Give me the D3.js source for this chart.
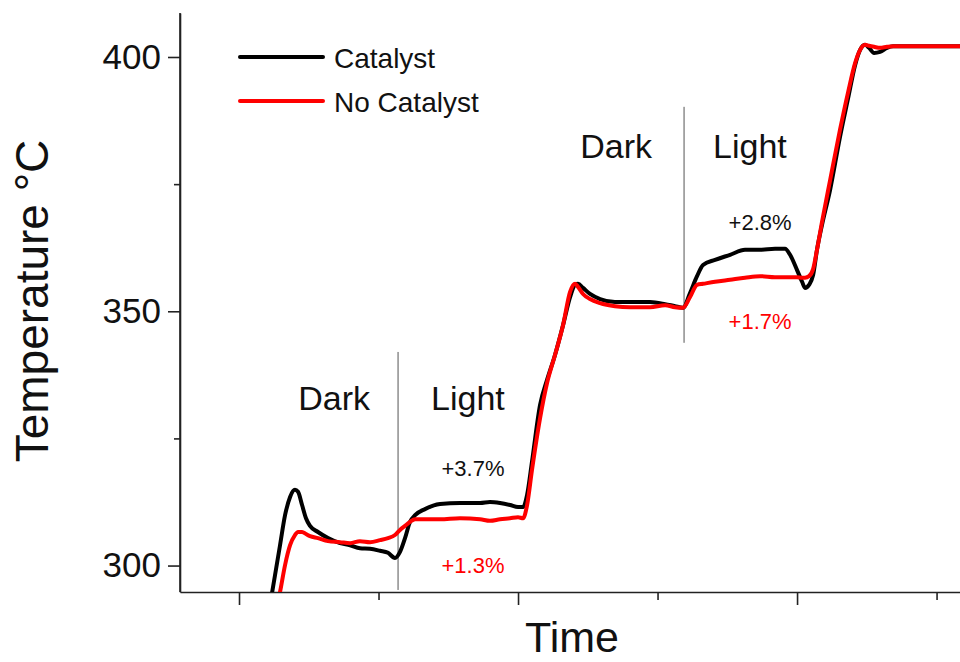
<!DOCTYPE html>
<html>
<head>
<meta charset="utf-8">
<script src="https://cdn.jsdelivr.net/npm/d3@7"></script>
<style>
  html, body { margin: 0; padding: 0; background: #fff; }
  svg { display: block; font-family: "Liberation Sans", Arial, Helvetica, sans-serif; }
</style>
</head>
<body>
<svg id="chart" width="960" height="662"></svg>
<script>
// Time (min) sampled along both runs
const time = [22.22, 22.58, 22.94, 23.30, 23.66, 24.01, 24.23, 24.52, 24.80, 25.09,
  25.66, 26.38, 27.24, 27.96, 28.67, 29.39, 30.11, 30.68, 31.18, 31.54,
  31.90, 32.26, 32.62, 33.33, 34.41, 35.84, 37.28, 37.99, 38.71, 39.43,
  40.00, 40.36, 40.65, 41.00, 41.58, 42.08, 42.65, 43.23, 43.73, 44.09,
  44.30, 44.66, 45.16, 45.88, 46.95, 48.03, 49.46, 50.54, 51.25, 51.83,
  52.33, 52.83, 53.26, 54.12, 55.20, 56.27, 57.35, 58.42, 59.14, 59.50,
  60.00, 60.36, 60.57, 60.86, 61.15, 61.43, 61.79, 62.37, 63.08, 63.66,
  64.16, 64.52, 64.87, 65.16, 65.52, 65.95, 66.45, 66.88, 71.68];

// Temperature (°C) with catalyst
const catalyst = [292.2, 298.1, 304.0, 309.9, 313.5, 314.9, 314.5, 311.9, 309.3, 307.8,
  306.6, 305.4, 304.4, 304.0, 303.4, 303.3, 302.9, 302.5, 301.5, 302.7,
  305.4, 308.6, 309.9, 311.1, 312.1, 312.3, 312.3, 312.5, 312.3, 311.9,
  311.5, 311.5, 313.9, 320.4, 331.6, 336.5, 341.4, 347.3, 352.8, 355.2,
  355.4, 354.6, 353.4, 352.4, 351.8, 351.8, 351.8, 351.4, 351.0, 350.7,
  353.6, 356.9, 359.1, 360.1, 361.1, 362.1, 362.1, 362.3, 362.3, 361.1,
  358.1, 355.8, 354.6, 355.2, 357.1, 362.1, 367.0, 373.9, 384.3, 391.9,
  398.4, 401.4, 402.4, 401.8, 400.8, 401.0, 401.8, 402.1, 402.1];

// Temperature (°C) without catalyst
const noCatalyst = [285.3, 290.3, 294.8, 300.1, 304.0, 306.0, 306.6, 306.6, 306.2, 305.8,
  305.4, 304.8, 304.6, 304.4, 304.8, 304.6, 305.0, 305.4, 306.0, 307.0,
  307.8, 308.6, 309.1, 309.1, 309.1, 309.3, 309.1, 308.8, 309.1, 309.3,
  309.5, 309.3, 311.9, 318.8, 329.0, 335.9, 341.4, 347.3, 353.8, 355.4,
  354.8, 353.4, 352.4, 351.6, 351.0, 350.8, 350.8, 351.2, 350.8, 350.7,
  352.8, 355.2, 355.4, 355.8, 356.2, 356.6, 356.9, 356.7, 356.7, 356.7,
  356.7, 356.6, 356.6, 356.9, 358.3, 362.1, 367.6, 375.8, 385.7, 393.1,
  398.8, 401.4, 402.4, 402.2, 402.0, 401.8, 402.0, 402.1, 402.1];

const seriesNames = ["Catalyst", "No Catalyst"];
const seriesColors = ["#000000", "#ff0000"];

const yMajorTicks = [300, 350, 400];
const yMinorTicks = [325, 375];
const xMajorTicks = [20, 40, 60];
const xMinorTicks = [30, 50, 70];

// Moments the lamp was switched on, with the span of each divider line
const lightOnTime = [31.4, 51.9];
const dividerLow = [295.2, 343.8];
const dividerHigh = [342.0, 390.2];

// Relative gains in the light phase
const gainCatalyst = ["+3.7%", "+2.8%"];
const gainNoCatalyst = ["+1.3%", "+1.7%"];

const svg = d3.select("#chart");
const plot = { left: 180, right: 960, top: 13, bottom: 592 };

const x = d3.scaleLinear().domain([15.77, 71.68]).range([plot.left, plot.right]);
const y = d3.scaleLinear().domain([294.8, 408.65]).range([plot.bottom, plot.top]);

svg.append("defs").append("clipPath").attr("id", "plot-clip")
  .append("rect")
  .attr("x", plot.left).attr("y", plot.top)
  .attr("width", plot.right - plot.left).attr("height", plot.bottom - plot.top);

const axisColor = "#222";

// Y axis: major ticks with labels, then minor ticks
const yAxis = svg.append("g").attr("transform", `translate(${plot.left},0)`)
  .call(d3.axisLeft(y).tickValues(yMajorTicks).tickSize(12).tickSizeOuter(0).tickPadding(7).tickFormat(d3.format("d")));
svg.append("g").attr("transform", `translate(${plot.left},0)`)
  .call(d3.axisLeft(y).tickValues(yMinorTicks).tickSize(6).tickSizeOuter(0).tickFormat(""))
  .select(".domain").remove();

// X axis: unlabeled ticks
svg.append("g").attr("transform", `translate(0,${plot.bottom})`)
  .call(d3.axisBottom(x).tickValues(xMajorTicks).tickSize(13).tickSizeOuter(0).tickFormat(""));
svg.append("g").attr("transform", `translate(0,${plot.bottom})`)
  .call(d3.axisBottom(x).tickValues(xMinorTicks).tickSize(8).tickSizeOuter(0).tickFormat(""))
  .select(".domain").remove();

svg.selectAll(".domain, .tick line").attr("stroke", axisColor).attr("stroke-width", 1.6);
yAxis.selectAll(".tick text")
  .attr("font-size", 35).attr("fill", "#111")
  .attr("font-family", "'Liberation Sans', Arial, sans-serif");

// Vertical axis line spans to the top of the frame
svg.append("line")
  .attr("x1", plot.left).attr("x2", plot.left)
  .attr("y1", plot.top).attr("y2", plot.bottom)
  .attr("stroke", axisColor).attr("stroke-width", 1.6);

// Axis titles
svg.append("text")
  .attr("transform", "translate(48,301) rotate(-90)")
  .attr("text-anchor", "middle").attr("font-size", 46).attr("fill", "#111")
  .text("Temperature °C");
svg.append("text")
  .attr("x", 572).attr("y", 652)
  .attr("text-anchor", "middle").attr("font-size", 43).attr("fill", "#111")
  .text("Time");

// Light-on dividers
lightOnTime.forEach((t, i) => {
  svg.append("line")
    .attr("x1", x(t)).attr("x2", x(t))
    .attr("y1", y(dividerLow[i])).attr("y2", y(dividerHigh[i]))
    .attr("stroke", "#555").attr("stroke-width", 1);
});

// Temperature traces
const line = d3.line()
  .x((d, i) => x(time[i]))
  .y(d => y(d))
  .curve(d3.curveMonotoneX);

const traces = svg.append("g").attr("clip-path", "url(#plot-clip)");
[catalyst, noCatalyst].forEach((values, k) => {
  traces.append("path")
    .datum(values)
    .attr("d", line)
    .attr("fill", "none")
    .attr("stroke", seriesColors[k])
    .attr("stroke-width", 4)
    .attr("stroke-linejoin", "round")
    .attr("stroke-linecap", "round");
});

// Phase labels either side of each divider
const phaseLabelY = [330.6, 380.2];
const darkGap = [28, 32];
const lightGap = [33, 29];
lightOnTime.forEach((t, i) => {
  const xd = x(t);
  const yy = y(phaseLabelY[i]);
  svg.append("text").attr("x", xd - darkGap[i]).attr("y", yy)
    .attr("text-anchor", "end").attr("font-size", 34).attr("fill", "#111").text("Dark");
  svg.append("text").attr("x", xd + lightGap[i]).attr("y", yy)
    .attr("text-anchor", "start").attr("font-size", 34).attr("fill", "#111").text("Light");
});

// Gain annotations
const gainX = [36.77, 57.35];
const gainCatY = [317.6, 366.0];
const gainNoCatY = [298.5, 346.5];
gainX.forEach((t, i) => {
  svg.append("text").attr("x", x(t)).attr("y", y(gainCatY[i]))
    .attr("text-anchor", "middle").attr("font-size", 22).attr("fill", "#111")
    .text(gainCatalyst[i]);
  svg.append("text").attr("x", x(t)).attr("y", y(gainNoCatY[i]))
    .attr("text-anchor", "middle").attr("font-size", 22).attr("fill", "#ff0000")
    .text(gainNoCatalyst[i]);
});

// Legend
const legend = svg.append("g").attr("transform", "translate(240,57)");
seriesNames.forEach((name, i) => {
  const g = legend.append("g").attr("transform", `translate(0,${i * 44})`);
  g.append("line").attr("x1", 0).attr("x2", 83).attr("y1", 0).attr("y2", 0)
    .attr("stroke", seriesColors[i]).attr("stroke-width", 4).attr("stroke-linecap", "round");
  g.append("text").attr("x", 94).attr("y", 11)
    .attr("font-size", 28).attr("fill", "#111").text(name);
});
</script>
</body>
</html>
